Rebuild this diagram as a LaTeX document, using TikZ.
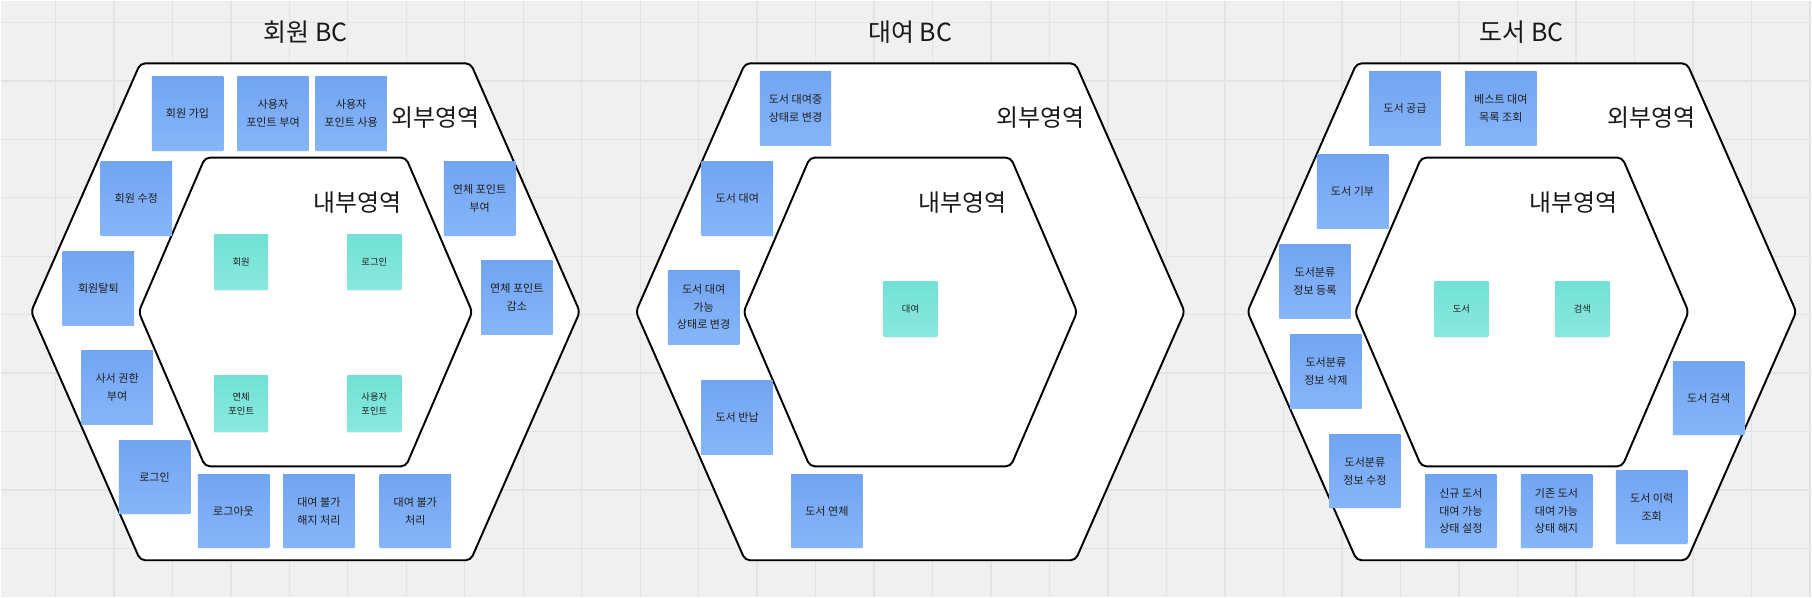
\documentclass[tikz,border=0pt]{standalone}
\usepackage{fontspec}
\setmainfont{Noto Sans CJK KR}
\usepackage{tikz}
\usetikzlibrary{shadows}
\definecolor{board}{HTML}{F0F0F0}
\definecolor{gridline}{HTML}{E3E3E3}
\definecolor{bluetop}{HTML}{72A4F1}
\definecolor{bluebot}{HTML}{86B6F9}
\definecolor{tealtop}{HTML}{72E1D5}
\definecolor{tealbot}{HTML}{8AE8DF}
\definecolor{ink}{HTML}{1F1F1F}

\begin{document}
\begin{tikzpicture}[x=0.01cm,y=-0.01cm,
        hexline/.style={draw=black,fill=white,line width=0.55pt,rounded corners=1.4pt},
        bctitle/.style={font=\fontsize{7.1}{8}\selectfont,text=black!90},
        area/.style={font=\fontsize{6.8}{7.5}\selectfont,text=black!90},
        usecase/.style={top color=bluetop,bottom color=bluebot,minimum width=0.715cm,minimum height=0.737cm,
            inner sep=0pt,align=center,text=ink,font=\fontsize{3.15}{5}\selectfont,
            drop shadow={shadow xshift=0pt,shadow yshift=-0.35pt,opacity=0.12}},
        model/.style={usecase,top color=tealtop,bottom color=tealbot,minimum width=0.54cm,minimum height=0.555cm,
            font=\fontsize{2.65}{4.05}\selectfont}]
        \fill[board] (0,0) rectangle (1812,597);
        \foreach \gx in {0,...,30}
            \draw[gridline,line width=0.4pt] ({54.7+58.53*\gx},0) -- ++(0,597);
        \foreach \gy in {0,...,9}
            \draw[gridline,line width=0.4pt] (0,{21.7+58.5*\gy}) -- ++(1812,0);
        \useasboundingbox (0,0) rectangle (1812,597);

        \foreach \cx/\title/\id in {305/회원 BC/member,910.3/대여 BC/rental,1522.3/도서 BC/book}{
            \draw[hexline] ({\cx-274.6},311.3) -- ({\cx-165.3},62.7) -- ({\cx+165.3},62.7)
                -- ({\cx+274.6},311.3) -- ({\cx+165.3},560) -- ({\cx-165.3},560) -- cycle;
            \draw[hexline] ({\cx-166.9},311.5) -- ({\cx-100.5},157) -- ({\cx+100.5},157)
                -- ({\cx+166.9},311.5) -- ({\cx+100.5},466) -- ({\cx-100.5},466) -- cycle;
            \node[bctitle] (title-\id) at (\cx,31.7) {\title};
            \node[area] (outer-\id) at ({\cx+130},116.7) {외부영역};
            \node[area] (inner-\id) at ({\cx+52},201.7) {내부영역};
        }

        \node[usecase] (join) at (187,113) {회원 가입};
        \node[usecase] (pt-give) at (272.5,113) {사용자\\포인트 부여};
        \node[usecase] (pt-use) at (350.7,113) {사용자\\포인트 사용};
        \node[usecase] (edit) at (135.7,198) {회원 수정};
        \node[usecase] (late-give) at (479.3,198) {연체 포인트\\부여};
        \node[usecase] (leave) at (97.8,287.8) {회원탈퇴};
        \node[usecase] (late-cut) at (516.6,296.8) {연체 포인트\\감소};
        \node[usecase] (admin) at (116.5,386.8) {사서 권한\\부여};
        \node[usecase] (login) at (154,476.8) {로그인};
        \node[usecase] (logout) at (233,510.8) {로그아웃};
        \node[usecase] (ban-off) at (318.4,510.8) {대여 불가\\해지 처리};
        \node[usecase] (ban-on) at (414.9,510.8) {대여 불가\\처리};
        \node[model] (member) at (240.7,261.7) {회원};
        \node[model] (auth) at (373.9,261.7) {로그인};
        \node[model] (late-pt) at (240.7,403.3) {연체\\포인트};
        \node[model] (user-pt) at (373.9,403.3) {사용자\\포인트};

        \node[usecase] (rent-busy) at (795.4,107.8) {도서 대여중\\상태로 변경};
        \node[usecase] (rent) at (737.2,198) {도서 대여};
        \node[usecase] (rent-free) at (703.5,306.8) {도서 대여\\가능\\상태로 변경};
        \node[usecase] (return) at (737,416.8) {도서 반납};
        \node[usecase] (overdue) at (826.8,510.8) {도서 연체};
        \node[model] (rental) at (910.5,308.3) {대여};

        \node[usecase] (supply) at (1405.3,107.8) {도서 공급};
        \node[usecase] (best) at (1501.3,107.8) {베스트 대여\\목록 조회};
        \node[usecase] (donate) at (1352.9,190.8) {도서 기부};
        \node[usecase] (cat-add) at (1315.3,280.8) {도서분류\\정보 등록};
        \node[usecase] (cat-del) at (1326.2,370.8) {도서분류\\정보 삭제};
        \node[usecase] (cat-edit) at (1365.3,470.8) {도서분류\\정보 수정};
        \node[usecase] (new-free) at (1461.3,510.8) {신규 도서\\대여 가능\\상태 설정};
        \node[usecase] (old-free) at (1557,510.8) {기존 도서\\대여 가능\\상태 해지};
        \node[usecase] (history) at (1652.3,506.8) {도서 이력\\조회};
        \node[usecase] (search) at (1709.3,397.7) {도서 검색};
        \node[model] (book) at (1461.9,308.3) {도서};
        \node[model] (find) at (1583,308.3) {검색};
    \end{tikzpicture}
\end{document}
